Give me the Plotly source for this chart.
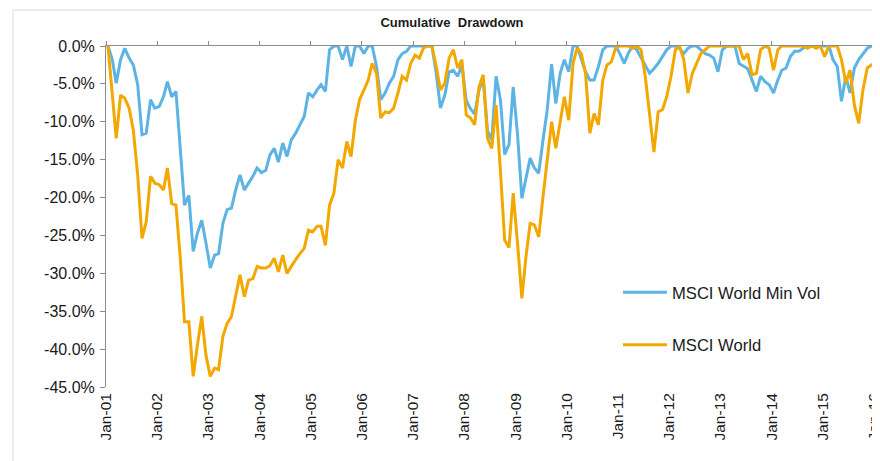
import pandas as pd
import plotly.graph_objects as go

# Monthly cumulative drawdown (%), Jan-2001 .. Jan-2016
min_vol = [
    0, -1.8, -4.9, -1.8, -0.3, -1.6, -2.5, -5.1, -11.7, -11.5, -7.1, -8.2,
    -8.0, -6.7, -4.7, -6.7, -6.0, -13.0, -21.0, -19.7, -27.1, -24.7, -23.0, -26.0,
    -29.3, -27.6, -27.4, -23.4, -21.6, -21.4, -19.0, -17.0, -19.0, -18.1, -17.2, -16.1,
    -16.7, -16.4, -14.4, -13.5, -15.3, -12.8, -14.6, -12.4, -11.5, -10.4, -9.3, -6.2,
    -6.7, -5.8, -5.1, -6.0, -0.5, 0, 0, -1.8, 0, -2.7, 0, 0,
    -1.0, 0, 0, -2.7, -7.1, -6.2, -4.9, -4.0, -1.8, -1.0, -0.7, 0,
    0, 0, 0, 0, 0, -3.6, -8.2, -6.5, -3.4, -3.2, -4.0, -2.5,
    -7.2, -8.3, -9.0, -5.8, -4.3, -11.2, -12.4, -4.0, -7.1, -14.3, -13.0, -5.4,
    -11.7, -20.1, -17.7, -14.8, -16.1, -16.8, -12.5, -8.4, -2.4, -7.6, -3.6, -1.8,
    -3.4, 0, 0, -1.8, -3.4, -4.5, -4.5, -2.7, -0.5, 0, 0, 0,
    -1.0, -2.3, -1.0, 0, -0.5, -1.5, -2.5, -3.6, -3.0, -2.3, -1.4, -0.5,
    0, 0, -0.3, -1.0, -0.3, 0, 0, -0.5, -1.0, -1.2, -1.6, -3.4,
    -0.5, 0, 0, 0, -2.3, -2.7, -3.0, -4.5, -6.0, -4.0, -4.7, -5.1,
    -6.2, -4.5, -3.2, -2.9, -1.4, -0.7, -0.7, -0.3, 0, 0, 0, 0,
    0, 0, -1.8, -2.7, -7.3, -4.0, -6.2, -2.9, -1.8, -1.0, -0.3, 0,
    0,
]
world = [
    0, -6.0, -12.2, -6.5, -6.9, -8.2, -11.1, -17.0, -25.4, -23.2, -17.2, -18.1,
    -18.3, -19.0, -16.1, -20.8, -21.0, -28.0, -36.4, -36.4, -43.6, -39.5, -35.7, -40.8,
    -43.6, -42.5, -42.7, -38.3, -36.6, -35.7, -33.0, -30.2, -33.1, -30.9, -30.7, -29.1,
    -29.3, -29.3, -29.0, -28.0, -29.8, -27.6, -30.0, -29.0, -28.2, -27.4, -26.7, -24.3,
    -24.5, -23.8, -23.8, -26.3, -21.0, -19.4, -15.0, -16.1, -12.6, -14.6, -9.8, -7.1,
    -5.8, -4.5, -2.3, -3.6, -9.5, -8.7, -8.8, -8.2, -6.2, -4.0, -4.5, -2.3,
    -1.2, -1.6, -0.3, 0, 0, -2.7, -5.8, -4.9, -1.6, -0.5, -2.9, -1.8,
    -9.1, -9.5, -10.4, -5.4, -3.8, -12.2, -13.5, -7.8, -16.5, -25.6, -26.6, -19.4,
    -26.0, -33.3, -28.0, -23.4, -23.6, -25.2, -20.0, -15.0, -10.0, -13.5, -9.8, -6.7,
    -9.8, -2.3, -0.3, -1.0, -3.6, -11.5, -8.9, -10.4, -4.5, -2.5, -2.1, -0.3,
    0, 0, 0, -0.3, 0, -0.5, -4.0, -9.0, -14.0, -8.7, -8.4, -6.7,
    -4.0, -0.5, 0, -1.8, -6.2, -3.6, -2.3, -1.0, -0.5, 0, 0, 0,
    0, 0, 0, 0, 0, -1.8, -1.0, -3.8, -3.6, -0.5, 0, -0.3,
    -3.2, -0.5, 0, 0, 0, 0, 0, 0, -0.3, 0, -0.3, 0,
    -1.4, 0, 0, 0, -1.8, -4.9, -3.2, -7.8, -10.2, -5.8, -2.9, -2.5,
    -2.4,
]
# observations are plotted at mid-month
dates = pd.date_range("2001-01-01", periods=len(world), freq="MS") + pd.Timedelta(days=14)

year_ticks = pd.date_range("2001-01-01", "2016-01-01", freq="YS")
year_labels = ["Jan-01", "Jan-02", "Jan-03", "Jan-04", "Jan-05", "Jan-06", "Jan-07", "Jan-08",
               "Jan-09", "Jan-10", "Jan-11", "Jan-12", "Jan-13", "Jan-14", "Jan-15", "Jan-16"]
y_ticks = [0, -5, -10, -15, -20, -25, -30, -35, -40, -45]
y_labels = ["0.0%", "-5.0%", "-10.0%", "-15.0%", "-20.0%", "-25.0%", "-30.0%", "-35.0%", "-40.0%", "-45.0%"]

BLUE = "#5DB4E4"
ORANGE = "#F3A800"
FONT = "Liberation Sans, Arial, sans-serif"
x_range = ["2001-01-01", "2016-01-02"]

# page body has an 8px margin: figure is sized/positioned so the plot lands where the reference has it
W, H = 872, 453
L, R, T, B = 98, 6, 38, 74
PW, PH = W - L - R, H - T - B

fig = go.Figure()
fig.add_trace(go.Scatter(x=dates, y=min_vol, mode="lines", name="MSCI World Min Vol",
                         line=dict(color=BLUE, width=3), legendgroup="a"))
fig.add_trace(go.Scatter(x=dates, y=world, mode="lines", name="MSCI World",
                         line=dict(color=ORANGE, width=3), legendgroup="b"))
# invisible helper trace for the top (zero-line) axis
fig.add_trace(go.Scatter(x=[dates[0]], y=[None], xaxis="x2", showlegend=False,
                         hoverinfo="skip", mode="lines"))

fig.update_layout(
    width=W, height=H,
    margin=dict(l=L, r=R, t=T, b=B, autoexpand=False),
    paper_bgcolor="white", plot_bgcolor="white",
    font=dict(family=FONT, size=16, color="#1a1a1a"),
    title=dict(text="<b>Cumulative  Drawdown</b>", x=444 / W, xanchor="center",
               y=1 - 14 / H, yanchor="middle", font=dict(size=13, color="#1a1a1a")),
    xaxis=dict(range=x_range, tickvals=year_ticks, ticktext=year_labels,
               tickangle=-90, showline=False, showgrid=False, zeroline=False, ticks="",
               ticklabelstandoff=2, ticklabeloverflow="allow",
               tickfont=dict(size=15.5, color="#1a1a1a")),
    xaxis2=dict(range=x_range, overlaying="x", side="top", anchor="y",
                tickvals=year_ticks, showticklabels=False, showline=True, linecolor="#8c8c8c",
                linewidth=1, ticks="outside", ticklen=4, tickcolor="#8c8c8c",
                showgrid=False, zeroline=False),
    yaxis=dict(range=[-45, 0], tickvals=y_ticks, ticktext=y_labels, showline=True,
               linecolor="#8c8c8c", linewidth=1, ticks="outside", ticklen=5,
               tickcolor="#8c8c8c", showgrid=False, zeroline=False, ticklabelstandoff=2,
               tickfont=dict(size=16, color="#1a1a1a")),
    legend=dict(x=(610 - L) / PW, y=(T + PH - 267) / PH, xanchor="left", yanchor="top",
                traceorder="grouped", tracegroupgap=28, bgcolor="rgba(0,0,0,0)",
                font=dict(size=16.6, color="#1a1a1a"), itemwidth=44),
    shapes=[dict(type="rect", xref="paper", yref="paper",
                 x0=(5 - L) / PW, x1=(W + 10 - L) / PW,
                 y0=(T + PH - H - 10) / PH, y1=1 + (T - 2) / PH,
                 line=dict(color="#d9d9d9", width=1), fillcolor="rgba(0,0,0,0)", layer="below")],
)

fig.write_html("out.html")
